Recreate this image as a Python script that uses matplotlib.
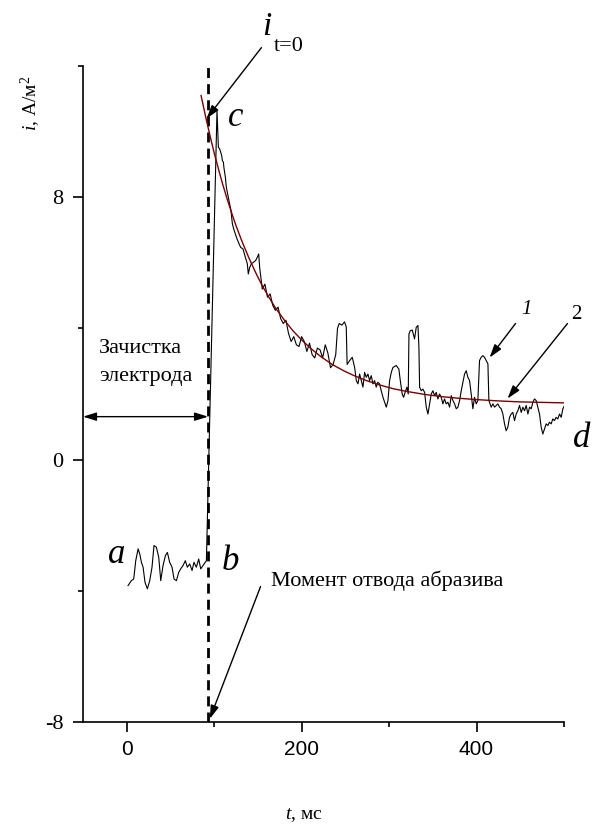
import matplotlib
matplotlib.use("Agg")
import matplotlib.pyplot as plt

plt.rcParams["font.family"] = ["Liberation Serif", "DejaVu Serif"]
plt.rcParams["axes.unicode_minus"] = False
plt.rcParams["mathtext.fontset"] = "custom"
plt.rcParams["mathtext.rm"] = "Liberation Serif"
plt.rcParams["mathtext.it"] = "Liberation Serif:italic"

# current density while the abrasive is on the electrode (a-b)
t_ab = [1.5, 5.3, 8.0, 10.3, 13.0, 14.9, 16.8, 18.7, 20.9, 23.6, 26.3, 28.9,
        31.2, 33.9, 36.6, 38.9, 41.5, 44.2, 46.5, 49.1, 51.8, 54.1, 56.8, 59.4,
        61.7, 64.4, 67.0, 69.3, 72.0, 74.7, 76.9, 79.6, 82.3, 84.6, 87.2, 89.9,
        91.1]
i_ab = [-3.84, -3.69, -3.64, -3.08, -2.72, -2.88, -3.13, -3.28, -3.74, -3.94,
        -3.69, -3.28, -2.62, -2.67, -2.98, -3.69, -3.23, -2.93, -2.83, -3.13,
        -3.28, -3.64, -3.69, -3.44, -3.33, -3.23, -3.08, -3.28, -3.18, -3.38,
        -3.13, -3.28, -3.03, -3.33, -3.23, -3.13, -3.08]

# transient after the abrasive is withdrawn (b-c-d), curve 1
t_cd = [103.2, 104.8, 106.3, 107.4, 108.6, 109.3, 110.5, 111.2, 112.0, 112.8,
        113.9, 115.0, 116.2, 117.7, 118.9, 119.6, 120.8, 122.3, 124.2, 126.1,
        128.4, 130.3, 133.0, 135.6, 137.9, 139.0, 140.6, 142.5, 145.1, 147.4,
        149.3, 150.9, 152.0, 155, 158, 161, 164, 167, 170, 173, 176, 179, 182,
        185, 188, 191, 194, 197, 200, 203, 206, 209, 212, 215, 218, 221, 224,
        227, 230, 233, 236, 239, 241, 243, 246, 249, 251, 252,
        254.9, 257.9, 260.6, 262.5, 264.4, 266.3, 268.2, 270.1, 272.0, 273.9,
        275.8, 277.7, 279.6, 281.5, 283.4, 285.3, 287.2, 289.1, 291.0, 293.0,
        294.9, 296.8, 298.7, 300.6, 302.5, 304.4, 308.2, 311.2, 312.8, 315.0,
        316.6, 318.9, 320.4, 321.9, 322.7, 324.2, 326.5, 329.1, 331.0, 333.0,
        334.1, 334.9, 336.8, 338.7, 340.6, 342.5, 344.4, 346.3, 348.2, 350.1,
        352.0, 353.9, 355.8, 357.7, 359.6, 361.5, 363.4, 365.3, 367.2, 369.2,
        371.1, 373.0, 374.9, 376.8, 378.7, 380.6, 382.5, 384.4, 386.3, 388.2,
        390.1, 392.0, 393.9, 395.8, 397.7, 399.6, 401.5, 403.4, 405.3, 407.2,
        409.1, 411.0, 413.0, 414.1, 416.8, 418.7, 420.6, 422.5, 424.4, 426.3,
        428.2, 430.1, 432.0, 433.9, 435.8, 437.7, 439.6, 441.5, 443.4, 445.3,
        447.2, 449.2, 451.1, 453.0, 454.9, 456.8, 458.7, 460.6, 462.5, 464.4,
        466.3, 468.2, 470.1, 472.0, 473.9, 475.8, 477.7, 479.6, 481.5, 483.4,
        485.3, 487.2, 489.1, 491.0, 492.9, 494.9, 496.8, 498.7, 500.6]
i_cd = [10.64, 9.52, 9.47, 9.37, 9.27, 9.12, 9.07, 8.89, 8.76, 8.61,
        8.30, 8.15, 8.00, 7.79, 7.64, 7.49, 7.19, 7.03, 6.88, 6.73,
        6.58, 6.47, 6.42, 6.17, 5.97, 5.66, 5.86, 5.97, 6.02, 6.07,
        6.17, 6.27, 5.86, 5.20, 5.35, 4.95, 5.05, 4.70, 4.55, 4.65, 4.30, 4.15,
        4.25, 3.85, 3.60, 3.75, 3.50, 3.45, 3.75, 3.60, 3.30, 3.55, 3.20, 3.10,
        3.40, 3.35, 3.10, 3.50, 3.25, 2.80, 2.90, 3.20, 4.00, 4.15, 4.10, 4.20,
        4.05, 2.90,
        3.02, 3.12, 2.81, 2.41, 2.31, 2.61, 2.41, 2.21, 2.66, 2.51,
        2.61, 2.41, 2.56, 2.31, 2.41, 2.21, 2.36, 2.31, 2.10, 1.90,
        1.75, 1.60, 1.80, 2.41, 2.66, 2.81, 2.87, 2.76, 2.41, 2.00,
        1.90, 2.10, 2.21, 2.00, 3.83, 3.93, 3.95, 3.68, 4.03, 4.09,
        3.42, 2.21, 2.10, 2.15, 2.05, 1.60, 1.39, 1.70, 2.00, 2.10,
        1.95, 2.05, 1.85, 2.00, 1.90, 1.70, 1.85, 1.70, 1.75, 1.60,
        1.95, 1.80, 1.70, 1.55, 1.60, 1.80, 2.10, 2.36, 2.61, 2.71,
        2.51, 2.41, 2.00, 1.55, 1.90, 1.70, 1.80, 3.02, 3.12, 3.17,
        3.12, 3.02, 2.92, 1.80, 1.60, 1.70, 1.60, 1.65, 1.70, 1.60,
        1.55, 1.39, 1.09, 0.88, 0.99, 1.29, 1.39, 1.44, 1.19, 1.39,
        1.49, 1.65, 1.44, 1.60, 1.49, 1.65, 1.39, 1.60, 1.55, 1.75,
        1.85, 1.80, 1.60, 1.39, 0.99, 0.78, 0.93, 1.09, 1.04, 1.14,
        1.09, 1.24, 1.19, 1.29, 1.24, 1.39, 1.29, 1.55, 1.65]

# exponential approximation, curve 2
t_fit = [85, 90, 95, 100, 105, 110, 115, 120, 125, 132, 140, 148, 155, 163,
         170, 180, 190, 200, 210, 222, 235, 248, 260, 275, 290, 305, 320, 340,
         360, 380, 400, 425, 450, 475, 500]
i_fit = [11.10, 10.48, 9.90, 9.35, 8.85, 8.37, 7.93, 7.52, 7.13, 6.64, 6.13,
         5.67, 5.30, 4.93, 4.63, 4.26, 3.93, 3.65, 3.40, 3.14, 2.90, 2.71,
         2.56, 2.40, 2.27, 2.16, 2.08, 1.99, 1.92, 1.87, 1.83, 1.79, 1.76,
         1.745, 1.73]

t_removal = 93

fig = plt.figure(figsize=(5.95, 8.25), dpi=100)
ax = fig.add_axes([0.1395, 0.1248, 0.8084, 0.7952])

ax.axvline(t_removal, color="black", lw=2.0, linestyle=(0, (3.6, 2.2)))
ax.plot(t_ab + t_cd, i_ab + i_cd, color="black", lw=0.8)
ax.plot(t_fit, i_fit, color="#7a0000", lw=1.0)

ax.set_xlim(-50, 500)
ax.set_ylim(-8, 12)
ax.set_xticks([0, 200, 400])
ax.set_xticks([100, 300, 500], minor=True)
ax.set_yticks([-8, 0, 8])
ax.set_yticks([-4, 4, 12], minor=True)
for side in ("top", "right"):
    ax.spines[side].set_visible(False)
for side in ("left", "bottom"):
    ax.spines[side].set_linewidth(1.2)
ax.tick_params(which="major", direction="out", length=7, width=1.2)
ax.tick_params(which="minor", direction="out", length=3.5, width=1.2)
ax.tick_params(axis="y", labelsize=16, pad=7)
ax.tick_params(axis="x", labelsize=15, pad=6, labelfontfamily="Liberation Sans")

fig.text(0.052, 0.875, r"$i$, А/м$^2$", rotation=90, fontsize=14,
         ha="center", va="center")
fig.text(0.51, 0.012, r"$t$, мс", fontsize=14, ha="center", va="center")

head = "-|>,head_length=0.8,head_width=0.25"
arrow = dict(arrowstyle=head, color="black", lw=1.0, shrinkA=0, shrinkB=0)

# cleaning interval
ax.annotate("", xy=(-50, 1.31), xytext=(t_removal, 1.31),
            arrowprops=dict(arrowstyle="<|-|>,head_length=0.8,head_width=0.25",
                            color="black", lw=1.0, shrinkA=0, shrinkB=0))
ax.text(-32, 3.26, "Зачистка", fontsize=16, ha="left", va="baseline")
ax.text(-32, 2.41, "электрода", fontsize=16, ha="left", va="baseline")

ax.annotate("", xy=(95, -7.9), xytext=(153, -3.87), arrowprops=arrow,
            annotation_clip=False)
ax.text(165, -3.84, "Момент отвода абразива", fontsize=16, ha="left",
        va="baseline")

ax.annotate("", xy=(91.4, 10.4), xytext=(154, 12.56), arrowprops=arrow,
            annotation_clip=False)
ax.text(155.4, 12.93, "i", fontsize=24, style="italic", ha="left",
        va="baseline", clip_on=False)
ax.text(168, 12.47, "t=0", fontsize=16, ha="left", va="baseline",
        clip_on=False)

ax.annotate("", xy=(414.9, 3.11), xytext=(444.6, 4.15), arrowprops=arrow)
ax.annotate("", xy=(435.4, 1.86), xytext=(504, 4.15), arrowprops=arrow,
            annotation_clip=False)
ax.text(451, 4.45, "1", fontsize=15, style="italic", ha="left", va="baseline")
ax.text(508, 4.3, "2", fontsize=15, ha="left", va="baseline", clip_on=False)

for label, (tx, ty) in {"a": (-22, -3.16), "b": (108.6, -3.35),
                        "c": (115.4, 10.18), "d": (509.7, 0.37)}.items():
    ax.text(tx, ty, label, fontsize=25, style="italic", ha="left",
            va="baseline", clip_on=False)

fig.savefig("out.png", dpi=100)
